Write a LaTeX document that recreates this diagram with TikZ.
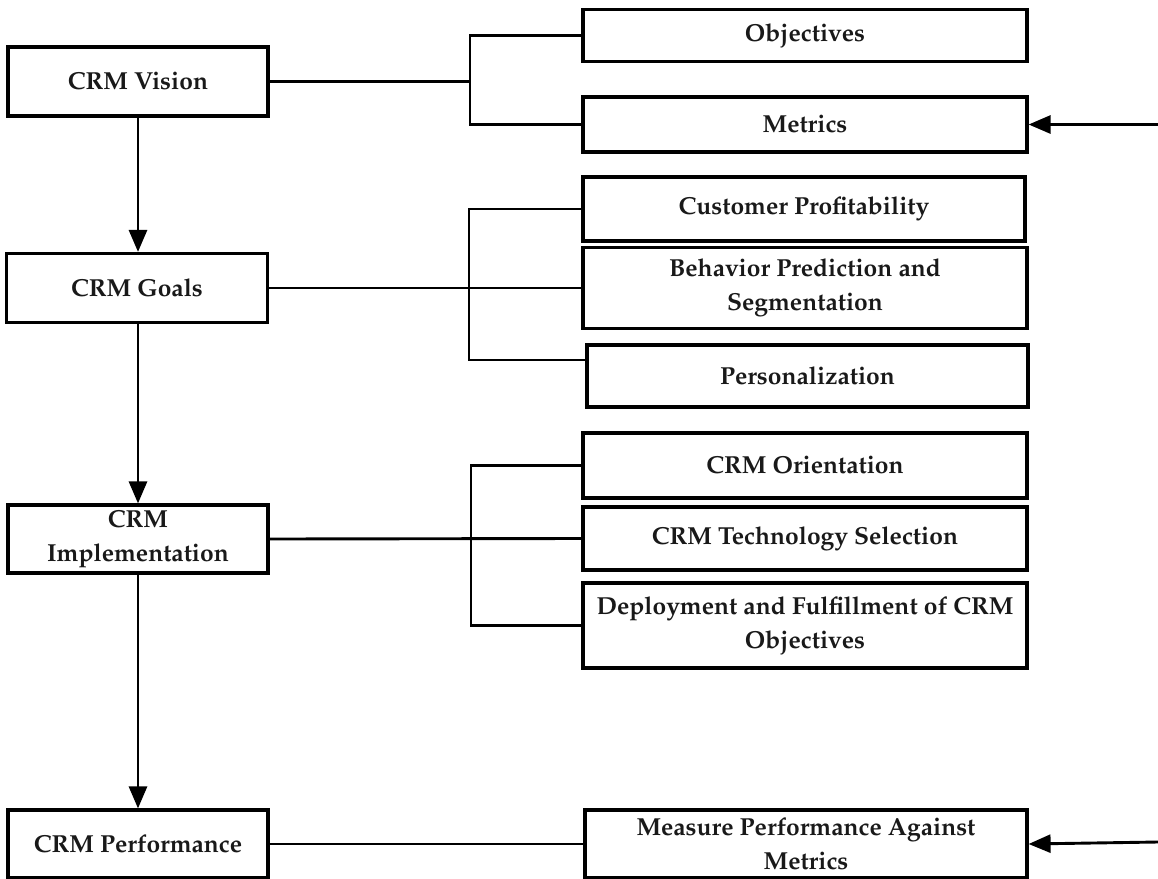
\documentclass[tikz,border=0pt]{standalone}
\usepackage[T1]{fontenc}
\renewcommand\rmdefault{ppl}
\usetikzlibrary{arrows.meta}
\begin{document}
\begin{tikzpicture}[x=0.5pt,y=-0.5pt,
  box/.style={draw, line width=1.6pt, inner sep=0pt, align=center,
    font=\bfseries\fontsize{12.3}{17}\selectfont, text=black!90},
  link/.style={line width=1.45pt},
  arr/.style={line width=1.45pt, -{Triangle[length=11pt,width=9pt]}}]
\useasboundingbox (0,0) rectangle (1158,879);

% left column: stages
\node[box, minimum width=130pt, minimum height=34.5pt] (vision) at (138,81.5) {CRM Vision};
\node[box, minimum width=130.5pt, minimum height=34.5pt] (goals) at (137,288) {CRM Goals};
\node[box, minimum width=130pt, minimum height=34pt] (impl) at (138,539) {CRM\\Implementation};
\node[box, minimum width=130pt, minimum height=34pt] (perf) at (138,844) {CRM Performance};

% right column: details of each stage
\node[box, minimum width=222pt, minimum height=26pt] (obj) at (805,35.5) {Objectives};
\node[box, minimum width=222pt, minimum height=27.5pt] (metrics) at (805,124.5) {Metrics};
\node[box, minimum width=221pt, minimum height=32pt] (custprof) at (804,209) {Customer Profitability};
\node[box, minimum width=222pt, minimum height=40.5pt] (behav) at (805,288) {Behavior Prediction and\\Segmentation};
\node[box, minimum width=220.5pt, minimum height=31pt] (person) at (807.5,376) {Personalization};
\node[box, minimum width=222pt, minimum height=32.5pt] (orient) at (805,465.5) {CRM Orientation};
\node[box, minimum width=222pt, minimum height=31.5pt] (techsel) at (805,538.5) {CRM Technology Selection};
\node[box, minimum width=222pt, minimum height=42.5pt] (deploy) at (805,625.5) {Deployment and Fulfillment of CRM\\Objectives};
\node[box, minimum width=221pt, minimum height=34pt] (measure) at (806,844) {Measure Performance Against\\Metrics};

% bracket junctions
\coordinate (j1) at (470,81.5);
\coordinate (j2) at (469,288);
\coordinate (j3) at (471,539);
\coordinate (in1) at (1158,124.5);
\coordinate (in2) at (1158,842);

% stage flow
\draw[arr] (vision.south) -- (vision.south |- goals.north);
\draw[arr] (goals.south -| vision.south) -- (vision.south |- impl.north);
\draw[arr] (impl.south) -- (impl.south |- perf.north);

% brackets
\draw[link] (vision.east) -- (j1);
\draw[link] (obj.west) -| (j1) |- (metrics.west);

\draw[link] (goals.east) -- (behav.west);
\draw[link] (custprof.west) -| (j2) |- ([yshift=8pt]person.west);

\draw[link] (impl.east) -- (techsel.west);
\draw[link] (orient.west) -| (j3) |- (deploy.west);

\draw[link] (perf.east) -- (measure.west);

% incoming feedback arrows
\draw[arr] (in1) -- (metrics.east);
\draw[arr] (in2) -- (measure.east);
\end{tikzpicture}
\end{document}
